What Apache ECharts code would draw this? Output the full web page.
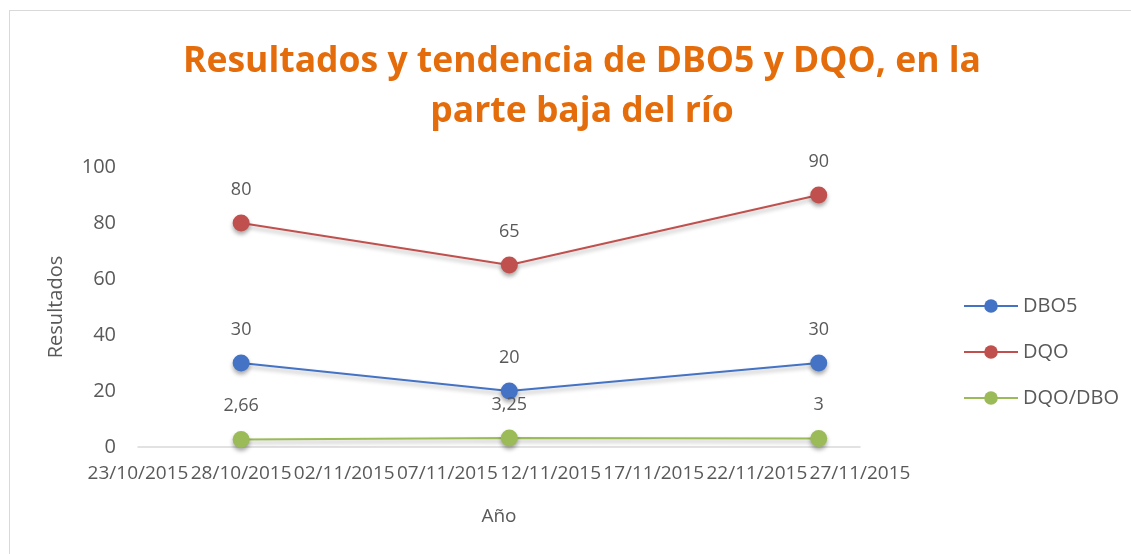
<!DOCTYPE html>
<html>
<head>
<meta charset="utf-8">
<script src="https://cdn.jsdelivr.net/npm/echarts@6/dist/echarts.min.js"></script>
<style>
  html, body { margin: 0; padding: 0; background: #fff; overflow: hidden; }
  #frame { position: absolute; left: 9px; top: 10px; width: 1200px; height: 600px; border: 1px solid #d9d9d9; }
  #chart { position: absolute; left: 0; top: 0; width: 1131px; height: 554px; }
</style>
</head>
<body>
<div id="frame"></div>
<div id="chart"></div>
<script>
// datos
const fechaInicio = "23/10/2015";
const fechaFin = "27/11/2015";
const fechas = ["28/10/2015", "10/11/2015", "25/11/2015"];
const dbo5 = [30, 20, 30];
const dqo = [80, 65, 90];
const dqoDbo = [2.66, 3.25, 3];
const nombres = ["DBO5", "DQO", "DQO/DBO"];
const colores = ["#4472C4", "#C0504D", "#9BBB59"];

const DIA = 86400000;
function aMs(s) {
  const p = s.split("/");
  return Date.UTC(+p[2], +p[1] - 1, +p[0]);
}
const base = aMs(fechaInicio);
function aDia(s) { return Math.round((aMs(s) - base) / DIA); }
function aFecha(d) {
  const f = new Date(base + d * DIA);
  const dd = String(f.getUTCDate()).padStart(2, "0");
  const mm = String(f.getUTCMonth() + 1).padStart(2, "0");
  return dd + "/" + mm + "/" + f.getUTCFullYear();
}

const gris = "#595959";
const fuente = "'Open Sans', 'DejaVu Sans', sans-serif";

function serie(i, valores) {
  return {
    name: nombres[i],
    type: "line",
    data: fechas.map((f, k) => [aDia(f), valores[k]]),
    symbol: "circle",
    symbolSize: 17,
    color: colores[i],
    lineStyle: {
      width: 2,
      shadowColor: "rgba(0,0,0,0.3)",
      shadowBlur: 4,
      shadowOffsetY: 3
    },
    itemStyle: {
      shadowColor: "rgba(0,0,0,0.35)",
      shadowBlur: 4,
      shadowOffsetY: 3
    },
    label: {
      show: true,
      position: "top",
      distance: 16,
      color: gris,
      fontSize: 18,
      fontFamily: fuente,
      formatter: p => String(p.value[1]).replace(".", ",")
    }
  };
}

const myChart = echarts.init(document.getElementById("chart"));
myChart.setOption({
  animation: false,
  title: {
    text: "Resultados y tendencia de DBO5 y DQO, en la\nparte baja del río",
    left: 577,
    textAlign: "center",
    top: 32,
    textStyle: {
      color: "#E46C0A",
      fontSize: 35.5,
      fontWeight: "bold",
      fontFamily: fuente,
      lineHeight: 50
    }
  },
  legend: {
    orient: "vertical",
    left: 958,
    top: 291,
    itemWidth: 54,
    itemHeight: 17,
    itemGap: 26,
    textStyle: { color: gris, fontSize: 20, fontFamily: fuente },
    data: nombres
  },
  grid: { left: 138, right: 271, top: 167, bottom: 107 },
  xAxis: {
    type: "value",
    min: 0,
    max: aDia(fechaFin),
    interval: 5,
    name: "Año",
    nameLocation: "middle",
    nameGap: 60,
    nameTextStyle: { color: gris, fontSize: 19, fontFamily: fuente },
    axisLine: { lineStyle: { color: "#d9d9d9", width: 1.5 } },
    axisTick: { show: false },
    splitLine: { show: false },
    axisLabel: {
      color: gris,
      fontSize: 19,
      fontFamily: fuente,
      margin: 17,
      showMinLabel: true,
      showMaxLabel: true,
      hideOverlap: false,
      formatter: v => aFecha(v)
    }
  },
  yAxis: {
    type: "value",
    min: 0,
    max: 100,
    interval: 20,
    name: "Resultados",
    nameLocation: "middle",
    nameGap: 72,
    nameTextStyle: { color: gris, fontSize: 20, fontFamily: fuente },
    axisLine: { show: false },
    axisTick: { show: false },
    splitLine: { show: false },
    axisLabel: { color: gris, fontSize: 20, fontFamily: fuente, margin: 22 }
  },
  series: [serie(0, dbo5), serie(1, dqo), serie(2, dqoDbo)]
});
</script>
</body>
</html>
